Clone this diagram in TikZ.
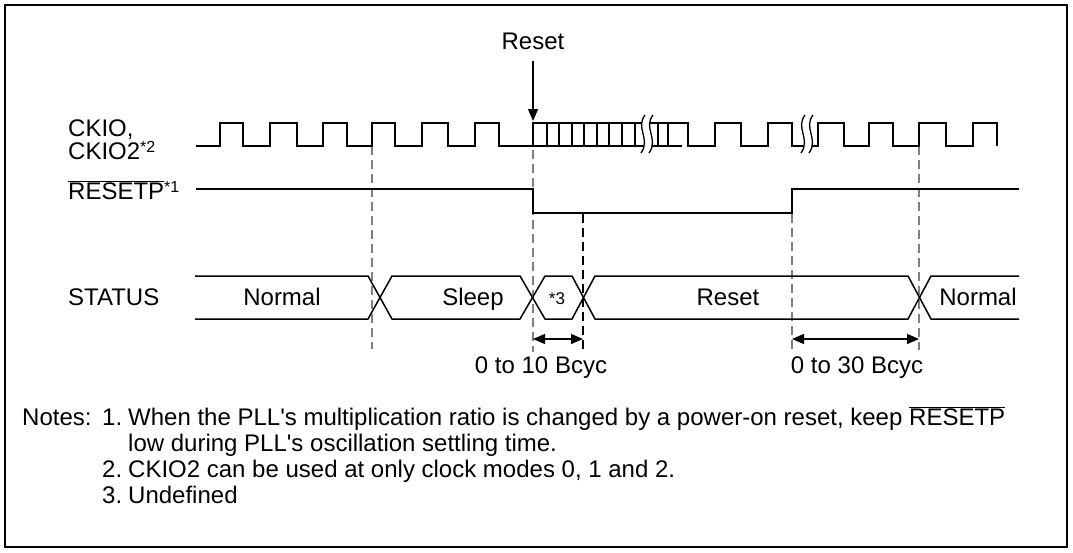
\documentclass[tikz,border=0pt]{standalone}
\usepackage{fontspec}
\setmainfont{Liberation Sans}
\usetikzlibrary{arrows.meta,calc}
\tikzset{
  semnal/.style   = {line width=1.5pt, line join=miter},
  ghid/.style     = {gray, line width=1.3pt, dash pattern=on 9pt off 5pt},
  ghidnegru/.style= {ghid, black, line width=1.1pt},
  sageata/.style  = {-{Triangle[length=12pt,width=10pt]}, line width=1.3pt},
  cota/.style     = {{Triangle[length=12pt,width=10pt]}-{Triangle[length=12pt,width=10pt]}, line width=1.3pt},
  eticheta/.style = {inner sep=0pt, font=\fontsize{24}{28}\selectfont},
  mic/.style      = {inner sep=0pt, font=\fontsize{17}{20}\selectfont},
  rupere/.style   = {line width=1.3pt}
}
\newcommand{\negat}[1]{$\overline{\mbox{#1}}$}
\newcommand{\stea}[1]{\raisebox{7pt}{\fontsize{16}{19}\selectfont *#1}}

\begin{document}
\begin{tikzpicture}[x=1pt, y=-1pt]
    \useasboundingbox (0,0) rectangle (1073,552);
    \draw[line width=2pt] (5,5) rectangle (1067,547);

    % etichete semnale
    \node[eticheta, anchor=base west] (ckio)   at (68,136) {CKIO,};
    \node[eticheta, anchor=base west] (ckio2)  at (68,159) {CKIO2\stea{2}};
    \node[eticheta, anchor=base west] (resetp) at (68,199) {\negat{RESETP}\stea{1}};
    \node[eticheta, anchor=base west] (status) at (68,305) {STATUS};

    % reset
    \node[eticheta, anchor=base] (reset) at (533,49) {Reset};
    \coordinate (rsus) at (533,61);
    \coordinate (rjos) at (533,121);
    \draw[sageata] (rsus) -- (rjos);

    % ghidaje
    \draw[ghid]      (372,146) -- (372,349);
    \draw[ghid]      (533,150) -- (533,352);
    \draw[ghidnegru] (583,214) -- (583,350);
    \draw[ghid]      (792,214) -- (792,350);
    \draw[ghid]      (919,146) -- (919,350);

    % CKIO
    \draw[semnal] (196,146)
        \foreach \r/\f in {220/243, 270/297, 323/347, 372/395, 422/448, 475/499}
        { -- (\r,146) -- (\r,123) -- (\f,123) -- (\f,146) } -- (533,146);
    \draw[semnal] (533,146) -- (533,123) -- (688,123) -- (688,146) -- (715,146)
        -- (715,123) -- (741,123) -- (741,146) -- (768,146) -- (768,123)
        -- (792,123) -- (792,146) -- (818,146) -- (818,123) -- (844,123)
        -- (844,146) -- (869,146) -- (869,123) -- (893,123) -- (893,146)
        -- (919,146) -- (919,123) -- (946,123) -- (946,146) -- (973,146)
        -- (973,123) -- (997,123) -- (997,146);
    \draw[semnal] (533,146) -- (682,146);
    \foreach \x in {547,559,572,584,597,609,622,635,658,668}
        \draw[line width=1.2pt] (\x,123) -- (\x,146);
    \foreach \x in {641,801} {
        \fill[white] (\x,153) .. controls (\x+10,139) and (\x-6,128) .. (\x+4,115)
            -- (\x+12,115) .. controls (\x+2,128) and (\x+18,139) .. (\x+8,153) -- cycle;
        \draw[rupere] (\x,153) .. controls (\x+10,139) and (\x-6,128) .. (\x+4,115);
        \draw[rupere] (\x+8,153) .. controls (\x+18,139) and (\x+2,128) .. (\x+12,115);
    }

    % RESETP
    \draw[semnal] (196,189) -- (533,189) -- (533,213) -- (792,213) -- (792,189) -- (1019,189);

    % STATUS
    \draw[semnal] (195,276) -- (368,276) -- (392,319) -- (520,319) -- (545,276)
        -- (572,276) -- (595,319) -- (908,319) -- (931,276) -- (1019,276);
    \draw[semnal] (195,319) -- (368,319) -- (392,276) -- (520,276) -- (545,319)
        -- (572,319) -- (595,276) -- (908,276) -- (931,319) -- (1019,319);
    \node[eticheta, anchor=base] (normal1) at (282,305) {Normal};
    \node[eticheta, anchor=base] (sleep)   at (473,305) {Sleep};
    \node[mic, anchor=base]      (nedef)   at (557,304) {*3};
    \node[eticheta, anchor=base] (rst)     at (728,305) {Reset};
    \node[eticheta, anchor=base] (normal2) at (978,305) {Normal};

    % cote
    \coordinate (a1) at (533,339);
    \coordinate (a2) at (583,339);
    \coordinate (b1) at (792,339);
    \coordinate (b2) at (919,339);
    \draw[cota] (a1) -- (a2);
    \draw[cota] (b1) -- (b2);
    \node[eticheta, anchor=base] (c10) at (541,373) {0 to 10 Bcyc};
    \node[eticheta, anchor=base] (c30) at (857,373) {0 to 30 Bcyc};

    % note
    \node[eticheta, anchor=base west] (note) at (22,425) {Notes:};
    \node[eticheta, anchor=base west] (n1)   at (102,425) {1.};
    \node[eticheta, anchor=base west] (t1)   at (128,425)
        {When the PLL\textquotesingle s multiplication ratio is changed by a power-on reset, keep \negat{RESETP}};
    \node[eticheta, anchor=base west] (t1b)  at (128,451)
        {low during PLL\textquotesingle s oscillation settling time.};
    \node[eticheta, anchor=base west] (n2)   at (102,477) {2.};
    \node[eticheta, anchor=base west] (t2)   at (128,477) {CKIO2 can be used at only clock modes 0, 1 and 2.};
    \node[eticheta, anchor=base west] (n3)   at (102,503) {3.};
    \node[eticheta, anchor=base west] (t3)   at (128,503) {Undefined};
\end{tikzpicture}
\end{document}
